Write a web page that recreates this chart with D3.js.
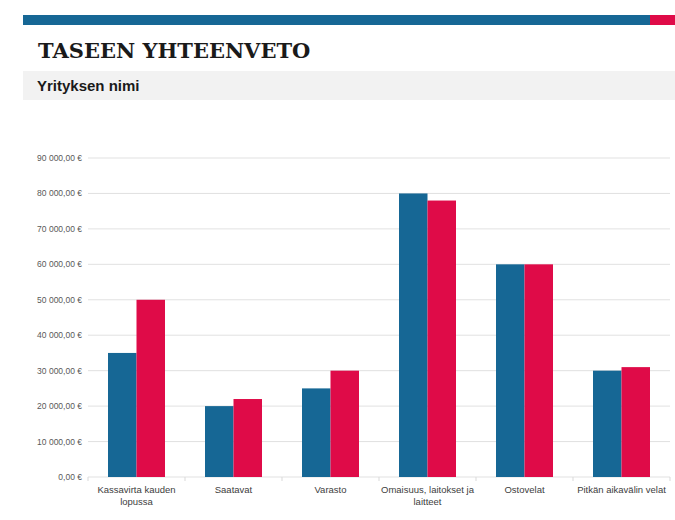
<!DOCTYPE html>
<html><head><meta charset="utf-8">
<script src="https://cdn.jsdelivr.net/npm/d3@7"></script>
<style>body{margin:0;background:#fff}</style>
</head><body><div id="chart"></div>
<script>
// chart data
const categories = ["Kassavirta kauden lopussa", "Saatavat", "Varasto", "Omaisuus, laitokset ja laitteet", "Ostovelat", "Pitkän aikavälin velat"];
const labelLines = [["Kassavirta kauden", "lopussa"], ["Saatavat"], ["Varasto"], ["Omaisuus, laitokset ja", "laitteet"], ["Ostovelat"], ["Pitkän aikavälin velat"]];
const seriesA = [35000, 20000, 25000, 80000, 60000, 30000];
const seriesB = [50000, 22000, 30000, 78000, 60000, 31000];
const yTicks = [0, 10000, 20000, 30000, 40000, 50000, 60000, 70000, 80000, 90000];

const W = 675, H = 520;
const svg = d3.select("#chart").append("svg").attr("width", W).attr("height", H);

// header
svg.append("rect").attr("x", 23).attr("y", 15).attr("width", 627).attr("height", 10).attr("fill", "#166795");
svg.append("rect").attr("x", 650).attr("y", 15).attr("width", 25).attr("height", 10).attr("fill", "#df0b48");
svg.append("text").attr("x", 38).attr("y", 58).text("TASEEN YHTEENVETO")
    .attr("font-family", "'DejaVu Serif', 'Liberation Serif', serif").attr("font-weight", "bold")
    .attr("font-size", 21).attr("fill", "#1a1a1a");
svg.append("rect").attr("x", 23).attr("y", 71).attr("width", 652).attr("height", 29).attr("fill", "#f2f2f2");
svg.append("text").attr("x", 37).attr("y", 91).text("Yrityksen nimi")
    .attr("font-family", "'Liberation Sans', Arial, sans-serif").attr("font-weight", "bold")
    .attr("font-size", 15).attr("fill", "#1a1a1a");

// plot
const plotLeft = 88, plotRight = 670, plotTop = 158, plotBottom = 477;
const x = d3.scaleBand().domain(categories).range([plotLeft, plotRight]);
const x1 = d3.scaleBand().domain(["a", "b"]).range([20, x.bandwidth() - 20]);
const y = d3.scaleLinear().domain([0, 90000]).range([plotBottom, plotTop]);

const g = svg.append("g").attr("font-family", "'Liberation Sans', Arial, sans-serif");

g.selectAll(".grid").data(yTicks).enter().append("line")
    .attr("x1", plotLeft).attr("x2", plotRight)
    .attr("y1", d => y(d)).attr("y2", d => y(d))
    .attr("stroke", "#d9d9d9").attr("stroke-width", 0.8);

const fmt = d => d3.format(",.2f")(d).replace(/,/g, "\u00a0").replace(".", ",") + " €";
g.selectAll(".ylab").data(yTicks).enter().append("text")
    .attr("x", plotLeft - 6).attr("y", d => y(d) + 3)
    .attr("text-anchor", "end").attr("font-size", 8.5).attr("fill", "#595959")
    .text(fmt);

// category separators on baseline
const seps = categories.map(c => x(c)).concat([plotRight]);
g.selectAll(".sep").data(seps).enter().append("line")
    .attr("x1", d => d).attr("x2", d => d).attr("y1", plotBottom).attr("y2", plotBottom + 4)
    .attr("stroke", "#d9d9d9");

const groups = g.selectAll(".grp").data(categories).enter().append("g")
    .attr("transform", d => `translate(${x(d)},0)`);
groups.append("rect").attr("x", x1("a")).attr("width", x1.bandwidth())
    .attr("y", (d, i) => y(seriesA[i])).attr("height", (d, i) => plotBottom - y(seriesA[i]))
    .attr("fill", "#166795");
groups.append("rect").attr("x", x1("b")).attr("width", x1.bandwidth())
    .attr("y", (d, i) => y(seriesB[i])).attr("height", (d, i) => plotBottom - y(seriesB[i]))
    .attr("fill", "#df0b48");

groups.each(function(d, i) {
    const t = d3.select(this).append("text").attr("text-anchor", "middle")
        .attr("font-size", 9.5).attr("fill", "#404040");
    labelLines[i].forEach((line, k) => {
        t.append("tspan").attr("x", x.bandwidth() / 2).attr("y", plotBottom + 16 + k * 12).text(line);
    });
});
</script></body></html>
